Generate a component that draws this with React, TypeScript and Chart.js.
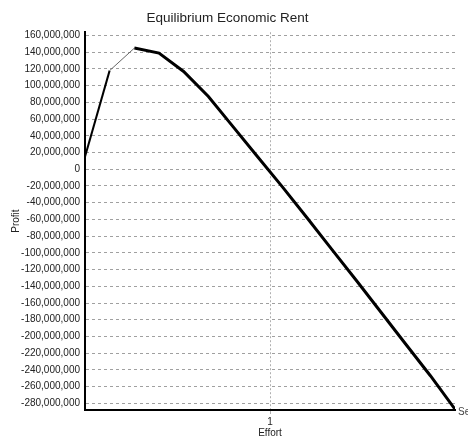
import React, { useEffect, useRef } from "react";
import { Chart, registerables } from "chart.js";

Chart.register(...registerables);

const effort = [0, 0.133, 0.267, 0.4, 0.533, 0.667, 0.8, 0.933, 1.067, 1.2, 1.333, 1.467, 1.6, 1.733, 1.867, 2.0];
const profit = [15e6, 118e6, 145e6, 139e6, 117e6, 87e6, 51e6, 15e6, -21e6, -58e6, -95.5e6, -133e6, -171e6, -209e6, -247e6, -287e6];
const titleText = "Equilibrium Economic Rent";
const xTitle = "Effort";
const yTitle = "Profit";
const seriesLabel = "Series1";

const FONT = "'Liberation Sans', Arial, sans-serif";

export default function App() {
  const ref = useRef<HTMLCanvasElement | null>(null);
  useEffect(() => {
    if (!ref.current) return;
    const endLabel = {
      id: "endLabel",
      afterDatasetsDraw(chart: any) {
        const meta = chart.getDatasetMeta(0);
        const pt = meta.data[meta.data.length - 1];
        if (!pt) return;
        const ctx = chart.ctx;
        ctx.save();
        ctx.font = `10px ${FONT}`;
        ctx.fillStyle = "#444";
        ctx.textBaseline = "middle";
        ctx.textAlign = "left";
        ctx.fillText(seriesLabel, pt.x + 3, pt.y + 3);
        ctx.restore();
      },
    };
    const chart = new Chart(ref.current, {
      type: "line",
      data: {
        datasets: [
          {
            data: effort.map((x, i) => ({ x, y: profit[i] })),
            borderColor: "#000",
            borderWidth: 3,
            pointRadius: 0,
            tension: 0,
            segment: {
              borderWidth: (c: any) => (c.p0DataIndex === 0 ? 2 : c.p0DataIndex === 1 ? 1 : 3),
              borderColor: (c: any) => (c.p0DataIndex === 1 ? "#666" : "#000"),
            },
          },
        ],
      },
      plugins: [endLabel],
      options: {
        responsive: false,
        animation: false,
        devicePixelRatio: 1,
        layout: { padding: { left: 0, right: 13, top: 0, bottom: 0 } },
        plugins: {
          legend: { display: false },
          tooltip: { enabled: false },
          title: {
            display: true,
            text: titleText,
            color: "#222",
            font: { family: FONT, size: 13.5, weight: "normal" },
            padding: { top: 10, bottom: 6 },
          },
        },
        scales: {
          x: {
            type: "linear",
            min: 0,
            max: 2,
            afterBuildTicks: (axis: any) => {
              axis.ticks = [{ value: 1 }];
            },
            afterFit: (scale: any) => {
              scale.height = 27;
              scale.paddingLeft = 0;
              scale.paddingRight = 0;
            },
            ticks: {
              color: "#222",
              font: { family: FONT, size: 10 },
              padding: 2,
              maxRotation: 0,
              callback: (v: any) => String(v),
            },
            grid: {
              color: "#b0b0b0",
              lineWidth: 1,
              drawTicks: true,
              tickLength: 4,
            },
            border: { display: true, color: "#000", width: 2, dash: [2, 2] },
            title: {
              display: true,
              text: xTitle,
              color: "#222",
              font: { family: FONT, size: 10, lineHeight: 1 },
              padding: { top: 0, bottom: -1 },
            },
          },
          y: {
            type: "linear",
            min: -288e6,
            max: 164e6,
            afterBuildTicks: (axis: any) => {
              const t: any[] = [];
              for (let v = -280e6; v <= 160e6; v += 20e6) t.push({ value: v });
              axis.ticks = t;
            },
            afterFit: (scale: any) => {
              scale.width = 85;
              scale.paddingTop = 0;
              scale.paddingBottom = 0;
            },
            ticks: {
              color: "#222",
              font: { family: FONT, size: 10 },
              padding: 5,
              callback: (v: any) => Number(v).toLocaleString("en-US"),
            },
            grid: {
              color: "#a0a0a0",
              lineWidth: 1,
              drawTicks: false,
            },
            border: { display: true, color: "#000", width: 2, dash: [3, 3] },
            title: {
              display: true,
              text: yTitle,
              color: "#222",
              font: { family: FONT, size: 10 },
              padding: { top: 10, bottom: 0 },
            },
          },
        },
      } as any,
    });
    return () => chart.destroy();
  }, []);
  return (
    <div style={{ position: "fixed", left: 0, top: 0, width: 468, height: 437, background: "#fff" }}>
      <canvas ref={ref} width={468} height={437} />
    </div>
  );
}
